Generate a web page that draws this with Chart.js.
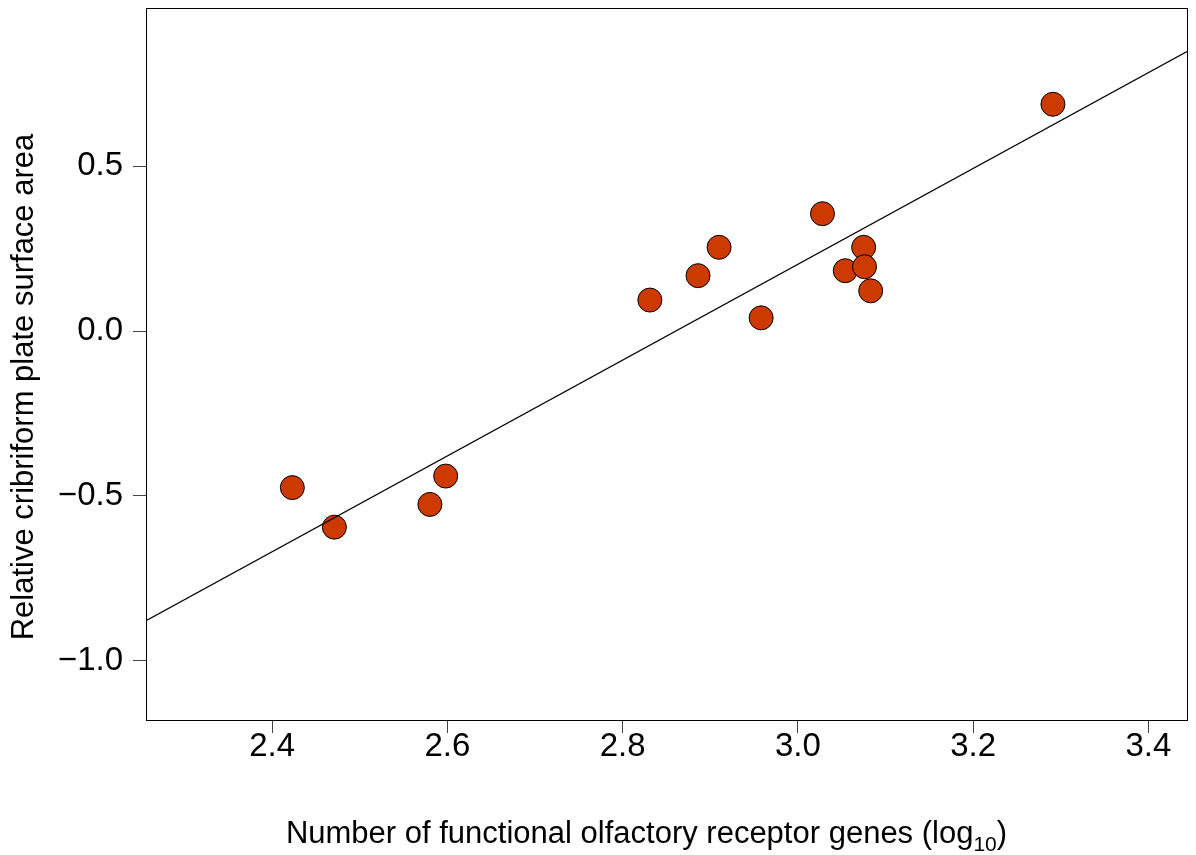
<!DOCTYPE html>
<html>
<head>
<meta charset="utf-8">
<title>Cribriform plate vs olfactory receptor genes</title>
<script src="https://cdn.jsdelivr.net/npm/chart.js@4.4.1/dist/chart.umd.min.js"></script>
<style>
  html, body { margin: 0; padding: 0; background: #fff; }
  canvas { display: block; }
</style>
</head>
<body>
<canvas id="grafica" width="1196" height="855"></canvas>
<script>
// species values: log10 OR gene count vs relative cribriform plate area
const genesLog = [2.423, 2.471, 2.580, 2.598, 2.831, 2.886, 2.910, 2.958, 3.028, 3.054, 3.075, 3.076, 3.083, 3.291];
const cribArea = [-0.475, -0.595, -0.526, -0.440, 0.094, 0.168, 0.254, 0.040, 0.356, 0.183, 0.254, 0.195, 0.122, 0.688];

// regression line, ends at the plot edges
const fitX = [2.256, 3.444];
const fitY = [-0.879, 0.848];

const xTicks = [2.4, 2.6, 2.8, 3.0, 3.2, 3.4];
const xTickLabels = ["2.4", "2.6", "2.8", "3.0", "3.2", "3.4"];
const yTicks = [-1.0, -0.5, 0.0, 0.5];
const yTickLabels = ["\u22121.0", "\u22120.5", "0.0", "0.5"];

const xTitle = "Number of functional olfactory receptor genes (log";
const xTitleSub = "10";
const yTitle = "Relative cribriform plate surface area";

const FONT = '"Liberation Sans", Arial, Helvetica, sans-serif';

// box around the plot + axis titles (x title needs a real subscript)
const marco = {
  id: "marco",
  afterDraw(chart) {
    const { ctx, chartArea: a } = chart;
    ctx.save();
    ctx.strokeStyle = "#000";
    ctx.lineWidth = 1;
    ctx.strokeRect(a.left + 0.5, a.top + 0.5, a.right - a.left, a.bottom - a.top);

    ctx.fillStyle = "#000";
    ctx.textBaseline = "alphabetic";
    ctx.font = `31px ${FONT}`;
    const wMain = ctx.measureText(xTitle).width;
    const wClose = ctx.measureText(")").width;
    ctx.font = `21px ${FONT}`;
    const wSub = ctx.measureText(xTitleSub).width;

    const cx = (a.left + a.right) / 2 - 20;
    const x0 = cx - (wMain + wSub + wClose) / 2;
    const base = a.bottom + 123;
    ctx.font = `31px ${FONT}`;
    ctx.fillText(xTitle, x0, base);
    ctx.fillText(")", x0 + wMain + wSub, base);
    ctx.font = `21px ${FONT}`;
    ctx.fillText(xTitleSub, x0 + wMain, base + 8);

    ctx.font = `31px ${FONT}`;
    ctx.translate(a.left - 113, (a.top + a.bottom) / 2 + 23);
    ctx.rotate(-Math.PI / 2);
    ctx.textAlign = "center";
    ctx.fillText(yTitle, 0, 0);
    ctx.restore();
  }
};

const ejeGrid = {
  display: true,
  drawOnChartArea: false,
  drawTicks: true,
  tickLength: 13,
  tickColor: "#444",
  tickWidth: 1
};

// fixed axis box sizes, no extra room for overhanging labels
function fijarEje(s, prop, size) {
  s[prop] = size;
  s.paddingTop = 0;
  s.paddingBottom = 0;
  s.paddingLeft = 0;
  s.paddingRight = 0;
}

new Chart(document.getElementById("grafica"), {
  type: "scatter",
  data: {
    datasets: [
      {
        type: "line",
        data: fitX.map((x, i) => ({ x, y: fitY[i] })),
        borderColor: "#000",
        borderWidth: 1.3,
        pointRadius: 0,
        fill: false,
        order: 0
      },
      {
        data: genesLog.map((x, i) => ({ x, y: cribArea[i] })),
        backgroundColor: "#cc3a00",
        borderColor: "#000",
        borderWidth: 1,
        pointRadius: 12,
        pointHoverRadius: 12,
        order: 1
      }
    ]
  },
  options: {
    responsive: false,
    animation: false,
    layout: { autoPadding: false, padding: { top: 8, right: 9, left: 0, bottom: 0 } },
    plugins: {
      legend: { display: false },
      tooltip: { enabled: false }
    },
    scales: {
      x: {
        type: "linear",
        min: 2.256,
        max: 3.444,
        afterBuildTicks: s => { s.ticks = xTicks.map(v => ({ value: v })); },
        afterFit: s => fijarEje(s, "height", 135),
        grid: ejeGrid,
        border: { display: false },
        ticks: {
          font: { family: FONT, size: 33, lineHeight: 1 },
          color: "#000",
          padding: -3,
          autoSkip: false,
          maxRotation: 0,
          callback: (v, i) => xTickLabels[i]
        }
      },
      y: {
        type: "linear",
        min: -1.18,
        max: 0.98,
        afterBuildTicks: s => { s.ticks = yTicks.map(v => ({ value: v })); },
        afterFit: s => fijarEje(s, "width", 146),
        grid: ejeGrid,
        border: { display: false },
        ticks: {
          font: { family: FONT, size: 33, lineHeight: 1 },
          color: "#000",
          padding: 10,
          autoSkip: false,
          callback: (v, i) => yTickLabels[i]
        }
      }
    }
  },
  plugins: [marco]
});
</script>
</body>
</html>
